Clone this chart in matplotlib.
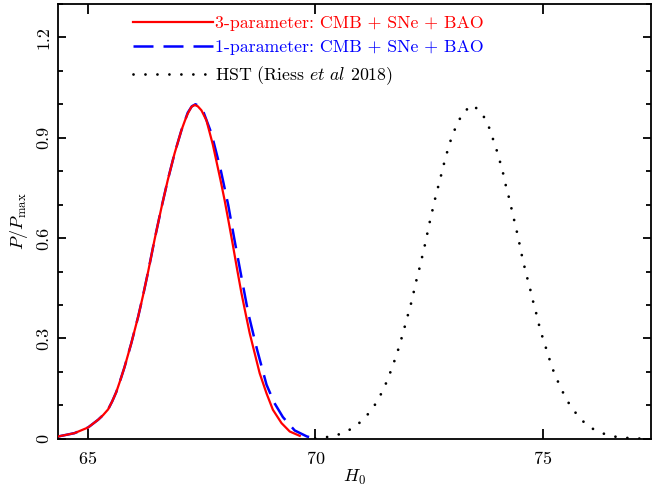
import matplotlib
matplotlib.use("Agg")
import matplotlib.pyplot as plt
from matplotlib.ticker import MultipleLocator

plt.rcParams['font.family'] = 'serif'
plt.rcParams['font.serif'] = ['cmr10', 'DejaVu Serif']
plt.rcParams['mathtext.fontset'] = 'cm'
plt.rcParams['axes.formatter.use_mathtext'] = True

# values
red_h0 = [64.35, 64.71, 65.01, 65.23, 65.34, 65.45, 65.54, 65.63, 65.72, 65.81,
          65.96, 66.11, 66.22, 66.33, 66.47, 66.62, 66.76, 66.91, 67.06, 67.14,
          67.20, 67.28, 67.35, 67.42, 67.50, 67.61, 67.75, 67.92, 68.01, 68.11,
          68.19, 68.28, 68.38, 68.47, 68.56, 68.67, 68.78, 68.93, 69.07, 69.26,
          69.44, 69.66]
red_p = [0.007, 0.017, 0.034, 0.057, 0.071, 0.088, 0.112, 0.140, 0.176, 0.214,
         0.286, 0.365, 0.430, 0.500, 0.595, 0.690, 0.773, 0.853, 0.922, 0.952,
         0.972, 0.992, 0.998, 0.994, 0.982, 0.952, 0.880, 0.773, 0.713, 0.640,
         0.580, 0.510, 0.435, 0.375, 0.316, 0.256, 0.196, 0.136, 0.087, 0.047,
         0.022, 0.009]

blue_h0 = [64.35, 64.71, 65.01, 65.23, 65.34, 65.45, 65.54, 65.63, 65.72, 65.81,
           65.96, 66.11, 66.22, 66.33, 66.47, 66.62, 66.76, 66.91, 67.06, 67.14,
           67.20, 67.29, 67.37, 67.46, 67.55, 67.72, 67.92, 68.09, 68.23, 68.38,
           68.53, 68.72, 68.93, 69.10, 69.29, 69.55, 69.82, 70.00]
blue_p = [0.007, 0.017, 0.034, 0.057, 0.071, 0.088, 0.112, 0.140, 0.176, 0.214,
          0.286, 0.365, 0.430, 0.500, 0.595, 0.690, 0.773, 0.853, 0.922, 0.952,
          0.975, 0.994, 1.000, 0.994, 0.975, 0.913, 0.806, 0.698, 0.592, 0.483,
          0.375, 0.268, 0.162, 0.108, 0.065, 0.025, 0.007, 0.001]

hst_h0 = [70.00, 70.10, 70.36, 70.61, 70.85, 71.05, 71.23, 71.37, 71.49, 71.60,
          71.69, 71.78, 71.86, 71.93, 72.00, 72.07, 72.14, 72.19, 72.26, 72.32,
          72.38, 72.44, 72.49, 72.55, 72.61, 72.67, 72.74, 72.80, 72.87, 72.94,
          73.03, 73.13, 73.26, 73.46, 73.65, 73.79, 73.87, 73.96, 74.03, 74.11,
          74.16, 74.23, 74.29, 74.35, 74.41, 74.47, 74.52, 74.58, 74.64, 74.71,
          74.77, 74.84, 74.90, 74.97, 75.05, 75.13, 75.21, 75.31, 75.42, 75.54,
          75.69, 75.86, 76.07, 76.30, 76.56, 76.82, 77.09, 77.35]
hst_p = [0.001, 0.003, 0.007, 0.017, 0.034, 0.057, 0.085, 0.114, 0.146, 0.180,
         0.214, 0.248, 0.283, 0.317, 0.352, 0.387, 0.422, 0.457, 0.493, 0.527,
         0.562, 0.598, 0.633, 0.668, 0.704, 0.738, 0.773, 0.808, 0.843, 0.878,
         0.913, 0.945, 0.977, 0.998, 0.975, 0.943, 0.909, 0.876, 0.841, 0.806,
         0.771, 0.736, 0.701, 0.666, 0.631, 0.595, 0.560, 0.524, 0.490, 0.455,
         0.419, 0.384, 0.349, 0.314, 0.280, 0.245, 0.211, 0.178, 0.145, 0.113,
         0.083, 0.055, 0.032, 0.017, 0.007, 0.003, 0.001, 0.000]

labels = ['3-parameter: CMB + SNe + BAO',
          '1-parameter: CMB + SNe + BAO',
          r'HST (Riess $\mathit{et\ al}$ 2018)']
xticks = [65, 70, 75]
yticks = [0, 0.3, 0.6, 0.9, 1.2]
ytick_labels = ['0', '0.3', '0.6', '0.9', '1.2']

fig = plt.figure(figsize=(6.52, 4.86), dpi=100)
ax = fig.add_axes([0.089, 0.097, 0.909, 0.895])

ax.plot(red_h0, red_p, color='red', lw=1.6, label=labels[0], zorder=3)
ax.plot(blue_h0, blue_p, color='blue', lw=1.8, dashes=(8, 4), label=labels[1], zorder=2)
ax.plot(hst_h0, hst_p, color='black', lw=2.0, linestyle=(0, (0.01, 4.3)),
        dash_capstyle='round', label=labels[2])

ax.set_xlim(64.35, 77.37)
ax.set_ylim(0, 1.3)
ax.set_xticks(xticks)
ax.set_yticks(yticks)
ax.set_yticklabels(ytick_labels, rotation=90, va='center')
ax.yaxis.set_minor_locator(MultipleLocator(0.1))

ax.tick_params(which='both', direction='in', top=True, right=True, labelsize=13,
               width=1.3)
ax.tick_params(axis='x', which='major', length=7, pad=8)
ax.tick_params(axis='y', which='major', length=6, pad=5)
ax.tick_params(axis='y', which='minor', length=3.5)
for s in ax.spines.values():
    s.set_linewidth(1.3)

ax.set_xlabel(r'$H_0$', fontsize=13, labelpad=1)
ax.set_ylabel(r'$P/P_{\rm max}$', fontsize=13, labelpad=4)

ax.legend(loc='upper left', bbox_to_anchor=(0.1, 1.01), frameon=False,
          fontsize=12.8, handlelength=4.5, handletextpad=0.12, labelspacing=0.5,
          labelcolor='linecolor')

fig.savefig('out.png', dpi=100)
